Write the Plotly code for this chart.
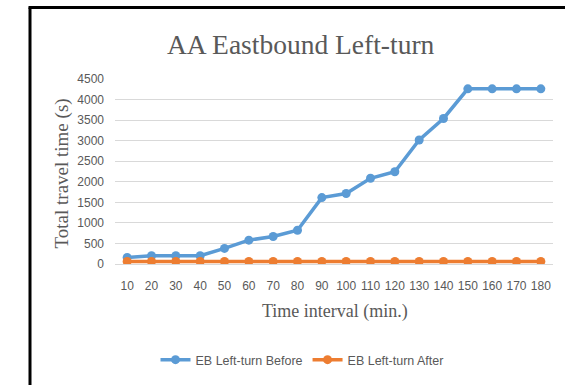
import plotly.graph_objects as go

intervals = [10, 20, 30, 40, 50, 60, 70, 80, 90, 100, 110, 120, 130, 140, 150, 160, 170, 180]
before = [160, 200, 200, 200, 380, 580, 670, 820, 1615, 1715, 2085, 2245, 3015, 3540, 4260, 4260, 4260, 4260]
after = [60, 60, 60, 60, 60, 60, 60, 60, 60, 60, 60, 60, 60, 60, 60, 60, 60, 60]
y_ticks = [0, 500, 1000, 1500, 2000, 2500, 3000, 3500, 4000, 4500]

W, H = 565, 385
L, R, T, B = 115, 553, 79, 265
pw, ph = R - L, B - T

def px(x):
    return (x - L) / pw

def py(y):
    return (B - y) / ph

fig = go.Figure()
fig.add_trace(go.Scatter(
    x=intervals, y=before, name="EB Left-turn Before", mode="lines+markers",
    line=dict(color="#5B9BD5", width=3.5), marker=dict(size=9, color="#5B9BD5"),
))
fig.add_trace(go.Scatter(
    x=intervals, y=after, name="EB Left-turn After", mode="lines+markers",
    line=dict(color="#ED7D31", width=3.5), marker=dict(size=9, color="#ED7D31"),
))

gray = "#595959"
fig.update_layout(
    width=W, height=H,
    margin=dict(l=L, r=W - R, t=T, b=H - B, pad=0),
    paper_bgcolor="white", plot_bgcolor="white",
    showlegend=True,
    legend=dict(orientation="h", x=px(302), y=py(360), xanchor="center", yanchor="middle",
                font=dict(family="Liberation Sans", size=12.5, color=gray), itemwidth=30),
    xaxis=dict(range=[5, 185], tickvals=intervals, ticktext=[str(v) for v in intervals],
               showgrid=False, zeroline=False, showline=False, ticks="",
               tickfont=dict(family="Liberation Sans", size=12, color=gray),
               ticklabelstandoff=13, fixedrange=True),
    yaxis=dict(range=[0, 4500], tickvals=y_ticks, showgrid=True, gridcolor="#D9D9D9", gridwidth=1,
               zeroline=True, zerolinecolor="#D9D9D9", zerolinewidth=1, showline=False, ticks="",
               tickfont=dict(family="Liberation Sans", size=12, color=gray),
               ticklabelstandoff=10, fixedrange=True),
    annotations=[
        dict(text="AA Eastbound Left-turn", x=px(301), y=py(44), xref="paper", yref="paper",
             showarrow=False, xanchor="center", yanchor="middle",
             font=dict(family="Liberation Serif", size=27.5, color=gray)),
        dict(text="Total travel time (s)", x=px(62), y=py(174), xref="paper", yref="paper",
             showarrow=False, xanchor="center", yanchor="middle", textangle=-90,
             font=dict(family="Liberation Serif", size=19, color=gray)),
        dict(text="Time interval (min.)", x=px(335), y=py(313), xref="paper", yref="paper",
             showarrow=False, xanchor="center", yanchor="middle",
             font=dict(family="Liberation Serif", size=18, color=gray)),
    ],
    shapes=[
        dict(type="line", xref="paper", yref="paper", x0=px(30), x1=px(30), y0=py(7), y1=py(390),
             line=dict(color="black", width=3)),
        dict(type="line", xref="paper", yref="paper", x0=px(28.5), x1=px(570), y0=py(7), y1=py(7),
             line=dict(color="black", width=3)),
    ],
)

fig.write_html("out.html")
